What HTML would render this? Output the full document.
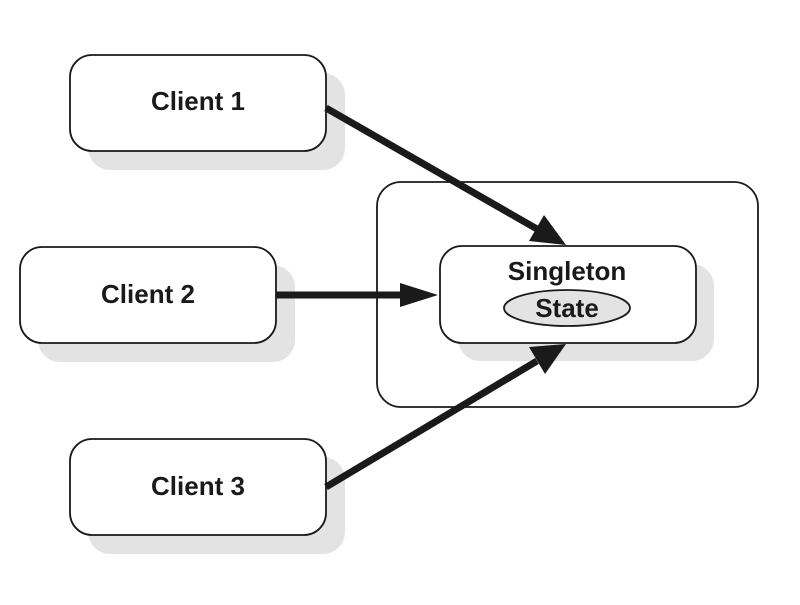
<!DOCTYPE html>
<html><head><meta charset="utf-8"><style>html,body{margin:0;padding:0;background:#fff}</style></head>
<body>
<svg width="800" height="600" viewBox="0 0 800 600" xmlns="http://www.w3.org/2000/svg" font-family="Liberation Sans, Arial, sans-serif" font-weight="bold">
<rect x="0" y="0" width="800" height="600" fill="#fff"/>
<g fill="#e3e3e3">
<rect x="88" y="73" width="257" height="97" rx="22"/>
<rect x="38" y="265" width="257" height="97" rx="22"/>
<rect x="88" y="457" width="257" height="97" rx="22"/>
</g>
<g fill="#fff" stroke="#1a1a1a" stroke-width="1.8">
<rect x="377" y="182" width="381" height="225" rx="24"/>
</g>
<rect x="458" y="264" width="256" height="97" rx="22" fill="#e3e3e3"/>
<g fill="#fff" stroke="#1a1a1a" stroke-width="1.8">
<rect x="70" y="55" width="256" height="96" rx="22"/>
<rect x="20" y="247" width="256" height="96" rx="22"/>
<rect x="70" y="439" width="256" height="96" rx="22"/>
<rect x="440" y="246" width="256" height="97" rx="22"/>
</g>
<ellipse cx="567" cy="308" rx="63" ry="18" fill="#e3e3e3" stroke="#1a1a1a" stroke-width="1.8"/>
<g fill="#1a1a1a" font-size="26" text-anchor="middle">
<text x="198" y="110">Client 1</text>
<text x="148" y="303">Client 2</text>
<text x="198" y="495">Client 3</text>
<text x="567" y="280">Singleton</text>
<text x="567" y="317">State</text>
</g>
<g stroke="#1a1a1a" stroke-width="7" fill="none">
<line x1="326" y1="108" x2="537" y2="229"/>
<line x1="276" y1="295" x2="405" y2="295"/>
<line x1="326" y1="487" x2="537" y2="361"/>
</g>
<g fill="#1a1a1a">
<polygon points="566,245 529,241 544,215"/>
<polygon points="438,295 400,283 400,307"/>
<polygon points="566,344 529,347 545,374"/>
</g>
</svg>
</body></html>
